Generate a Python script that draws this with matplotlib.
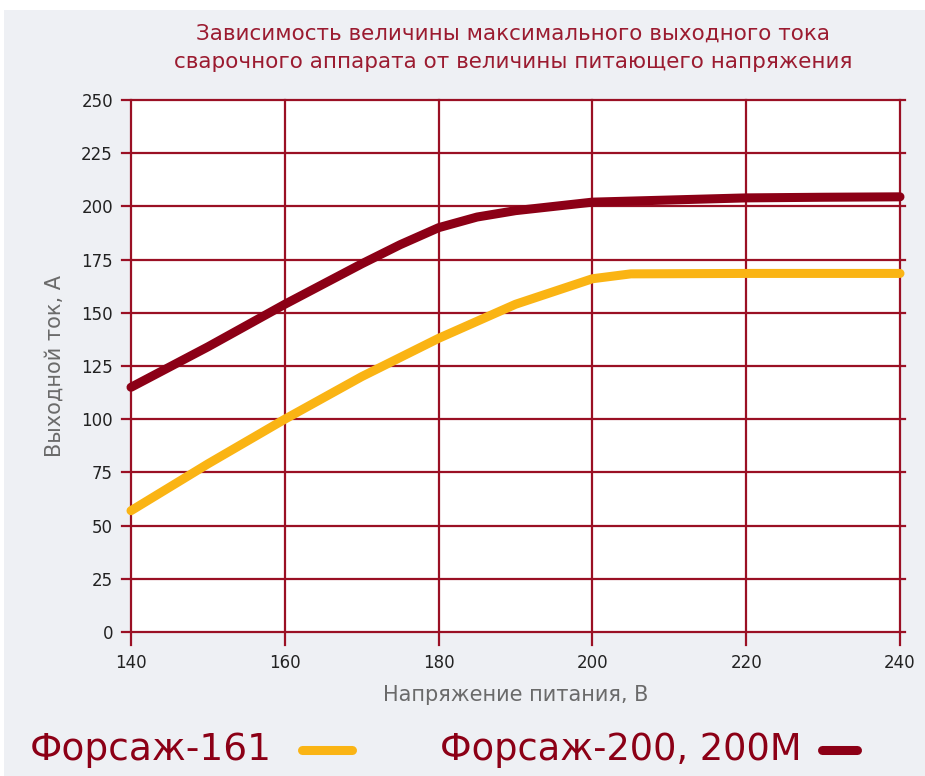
import matplotlib
matplotlib.use('Agg')
import matplotlib.pyplot as plt
from matplotlib.lines import Line2D
from matplotlib.patches import Rectangle
from matplotlib.transforms import blended_transform_factory

# data
voltage_200 = [140, 150, 160, 170, 175, 180, 185, 190, 200, 210, 220, 230, 240]
current_200 = [115, 134, 154, 173, 182, 190, 195, 198, 202, 203, 204, 204.3, 204.5]
voltage_161 = [140, 150, 160, 170, 180, 190, 195, 200, 205, 220, 240]
current_161 = [57, 79, 100, 120, 138, 154, 160, 166, 168.3, 168.5, 168.5]

x_ticks = [140, 160, 180, 200, 220, 240]
y_ticks = [0, 25, 50, 75, 100, 125, 150, 175, 200, 225, 250]

title = 'Зависимость величины максимального выходного тока\nсварочного аппарата от величины питающего напряжения'
x_label = 'Напряжение питания, В'
y_label = 'Выходной ток, А'
names = ['Форсаж-161', 'Форсаж-200, 200М']

red = '#8c0016'
grid_red = '#9a1024'
yellow = '#fab414'
bg = '#eef0f4'

fig = plt.figure(figsize=(9.25, 7.76), dpi=100, facecolor='white')
fig.patches.append(Rectangle((4 / 925, 0), 1, 1 - 10 / 776, transform=fig.transFigure,
                             facecolor=bg, edgecolor='none', zorder=-10))

ax = fig.add_axes([131 / 925, 1 - 632 / 776, 769 / 925, 532 / 776])
ax.set_facecolor('white')
ax.set_xlim(140, 240)
ax.set_ylim(0, 250)

for s in ax.spines.values():
    s.set_visible(False)

# grid lines with little overhangs like the original
trans_y = blended_transform_factory(ax.transAxes, ax.transData)
for v in y_ticks:
    ax.plot([-0.012, 1.007], [v, v], color=grid_red, lw=1.6, transform=trans_y,
            clip_on=False, zorder=1)
trans_x = blended_transform_factory(ax.transData, ax.transAxes)
for v in x_ticks:
    ax.plot([v, v], [-0.024, 1.0], color=grid_red, lw=1.6, transform=trans_x,
            clip_on=False, zorder=1)

ax.plot(voltage_161, current_161, color=yellow, lw=6.5, solid_capstyle='round',
        solid_joinstyle='round', zorder=3, clip_on=False)
ax.plot(voltage_200, current_200, color=red, lw=6.5, solid_capstyle='round',
        solid_joinstyle='round', zorder=3, clip_on=False)

ax.set_xticks(x_ticks)
ax.set_yticks(y_ticks)
ax.tick_params(length=0, labelsize=12, colors='#222222')
ax.tick_params(axis='x', pad=16)
ax.tick_params(axis='y', pad=13)

ax.set_xlabel(x_label, fontsize=15, color='#6a6a6a', labelpad=9)
ax.set_ylabel(y_label, fontsize=15, color='#6a6a6a', labelpad=12)

fig.text(0.555, 1 - 48 / 776, title, ha='center', va='center', fontsize=15.5,
         color='#9b1b30', linespacing=1.5)

# legend drawn by hand below the axes
ly = 1 - 750 / 776
fig.text(30 / 925, ly, names[0], ha='left', va='center', fontsize=27, color=red)
fig.add_artist(Line2D([302 / 925, 352 / 925], [ly, ly], color=yellow, lw=6.5,
                      solid_capstyle='round', transform=fig.transFigure))
fig.text(440 / 925, ly, names[1], ha='left', va='center', fontsize=26.5, color=red)
fig.add_artist(Line2D([822 / 925, 857 / 925], [ly, ly], color=red, lw=6.5,
                      solid_capstyle='round', transform=fig.transFigure))

fig.savefig('out.png', dpi=100, facecolor=fig.get_facecolor())
